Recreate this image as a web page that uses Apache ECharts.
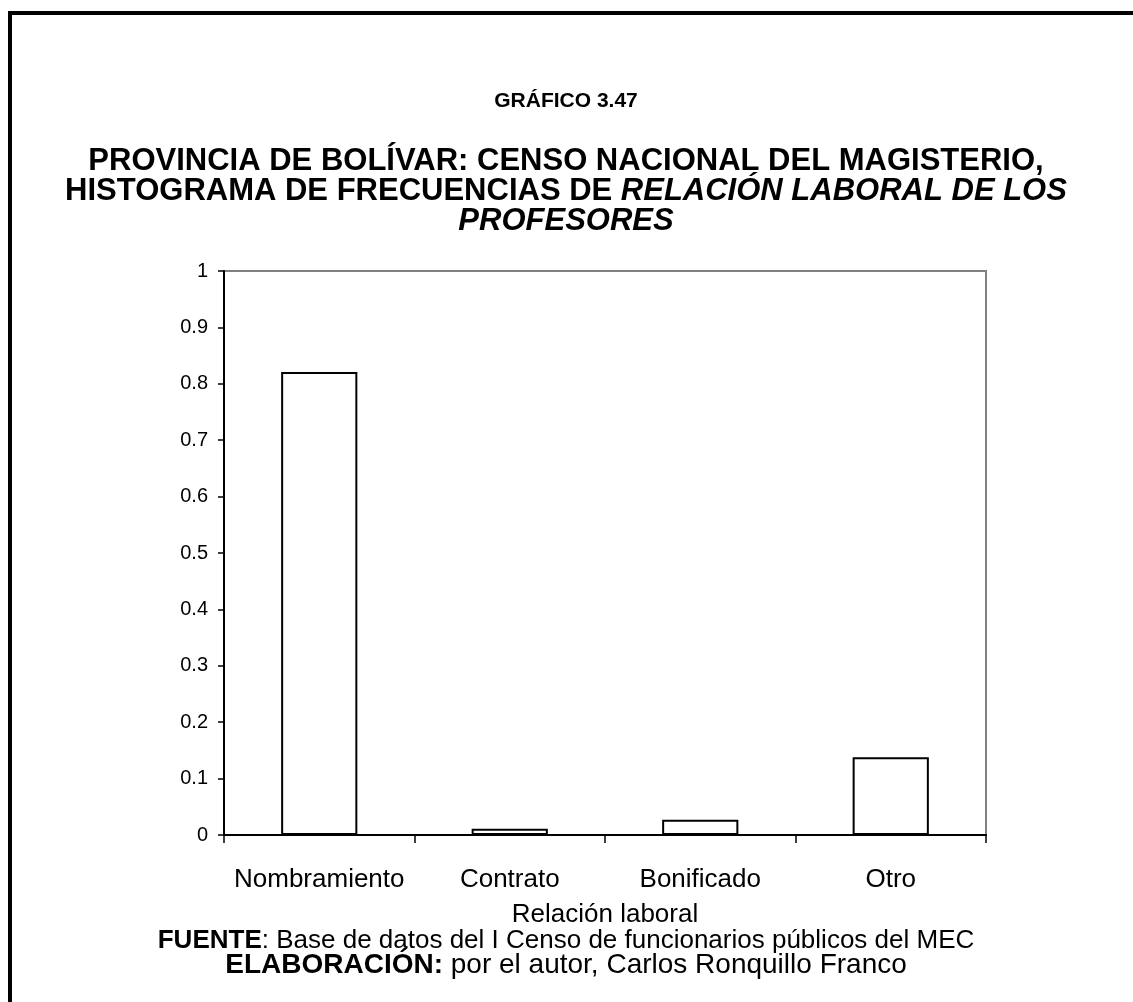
<!DOCTYPE html>
<html>
<head>
<meta charset="utf-8">
<script src="https://cdn.jsdelivr.net/npm/echarts@6/dist/echarts.min.js"></script>
<style>
  html, body { margin: 0; padding: 0; background: #fff; }
  #main { width: 1133px; height: 1002px; }
</style>
</head>
<body>
<div id="main"></div>
<script>
var categorias = ['Nombramiento', 'Contrato', 'Bonificado', 'Otro'];
var frecuencias = [0.821, 0.011, 0.027, 0.138];

var chart = echarts.init(document.getElementById('main'));
var fuente = 'Liberation Sans, Arial, sans-serif';

var option = {
  backgroundColor: '#fff',
  animation: false,
  textStyle: { fontFamily: fuente },
  graphic: [
    {
      type: 'rect',
      shape: { x: 10, y: 13, width: 1300, height: 1200 },
      style: { fill: 'none', stroke: '#000', lineWidth: 4 }
    },
    {
      type: 'text',
      x: 566, y: 101,
      style: {
        text: 'GRÁFICO 3.47',
        align: 'center', verticalAlign: 'middle',
        font: 'bold 21px ' + fuente, fill: '#000'
      }
    },
    {
      type: 'text',
      x: 566, y: 191,
      style: {
        text: '{b|PROVINCIA DE BOLÍVAR: CENSO NACIONAL DEL MAGISTERIO,}\n' +
              '{b|HISTOGRAMA DE FRECUENCIAS DE }{bi|RELACIÓN LABORAL DE LOS}\n' +
              '{bi|PROFESORES}',
        align: 'center', verticalAlign: 'middle',
        rich: {
          b: { fontFamily: fuente, fontSize: 31, fontWeight: 'bold', fill: '#000', lineHeight: 30 },
          bi: { fontFamily: fuente, fontSize: 31, fontWeight: 'bold', fontStyle: 'italic', fill: '#000', lineHeight: 30 }
        }
      }
    },
    {
      type: 'text',
      x: 566, y: 953,
      style: {
        text: '{b|FUENTE}{n|: Base de datos del I Censo de funcionarios públicos del MEC}\n' +
              '{b2|ELABORACIÓN:}{n2| por el autor, Carlos Ronquillo Franco}',
        align: 'center', verticalAlign: 'middle',
        rich: {
          b: { fontFamily: fuente, fontSize: 26, fontWeight: 'bold', fill: '#000', lineHeight: 25 },
          n: { fontFamily: fuente, fontSize: 26, fontWeight: 'normal', fill: '#000', lineHeight: 25 },
          b2: { fontFamily: fuente, fontSize: 28, fontWeight: 'bold', fill: '#000', lineHeight: 25 },
          n2: { fontFamily: fuente, fontSize: 28, fontWeight: 'normal', fill: '#000', lineHeight: 25 }
        }
      }
    }
  ],
  grid: {
    left: 224,
    top: 271,
    right: 147,
    bottom: 167,
    show: true,
    borderColor: '#808080',
    borderWidth: 2,
    backgroundColor: 'transparent'
  },
  xAxis: {
    type: 'category',
    data: categorias,
    name: 'Relación laboral',
    nameLocation: 'middle',
    nameGap: 67,
    nameTextStyle: { fontFamily: fuente, fontSize: 26, color: '#000' },
    axisLine: { lineStyle: { color: '#000', width: 2 } },
    axisTick: { show: true, interval: 0, length: 8, lineStyle: { color: '#000', width: 1.5 } },
    axisLabel: { interval: 0, margin: 32, fontFamily: fuente, fontSize: 26, color: '#000' }
  },
  yAxis: {
    type: 'value',
    min: 0,
    max: 1,
    interval: 0.1,
    axisLine: { show: true, lineStyle: { color: '#000', width: 2 } },
    axisTick: { show: true, length: 6, lineStyle: { color: '#000', width: 1.5 } },
    axisLabel: { margin: 16, fontFamily: fuente, fontSize: 20, color: '#000' },
    splitLine: { show: false }
  },
  series: [{
    type: 'bar',
    data: frecuencias,
    barWidth: '40%',
    itemStyle: { color: '#fff', borderColor: '#000', borderWidth: 2 }
  }]
};

chart.setOption(option);
</script>
</body>
</html>
